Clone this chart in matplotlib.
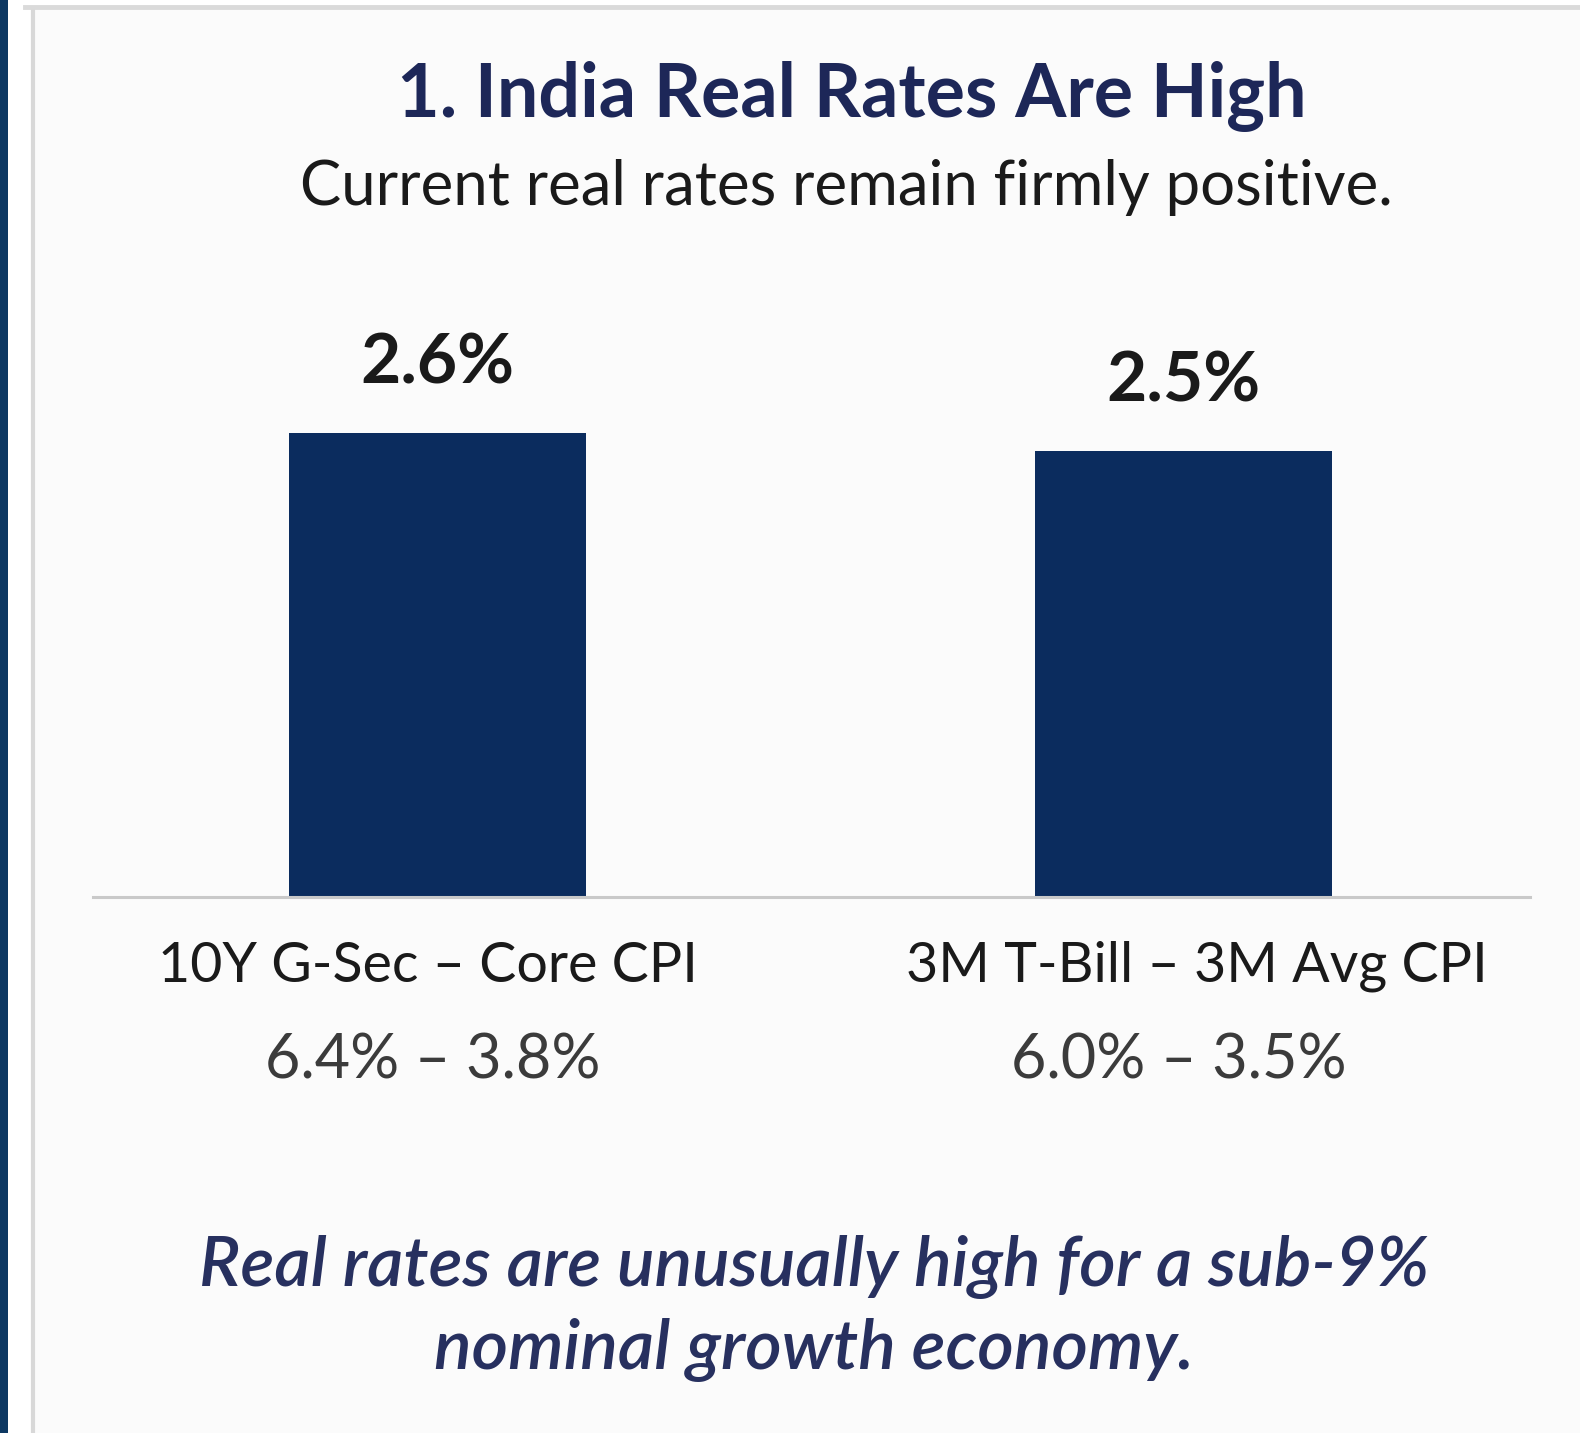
import matplotlib
matplotlib.use('Agg')
import matplotlib.pyplot as plt
from matplotlib.patches import Rectangle
from matplotlib.lines import Line2D

W, H = 1580, 1433

TITLE = '1. India Real Rates Are High'
SUBTITLE = 'Current real rates remain firmly positive.'
CATEGORIES = ['10Y G-Sec \u2013 Core CPI', '3M T-Bill \u2013 3M Avg CPI']
COMPONENTS = ['6.4% \u2013 3.8%', '6.0% \u2013 3.5%']
REAL_RATES = [2.6, 2.5]
NOTE_LINES = ['Real rates are unusually high for a sub-9%',
              'nominal growth economy.']

NAVY = '#0b2c5e'
TITLE_COLOR = '#1d2758'
NOTE_COLOR = '#27305f'

plt.rcParams['font.family'] = ['Lato', 'DejaVu Sans']


def fx(x):
    return x / W


def fy(y):
    return 1 - y / H


fig = plt.figure(figsize=(W / 100, H / 100), dpi=100)
fig.patch.set_facecolor('white')

# side strip and card frame, kept behind the axes
fig.patches.append(Rectangle((0, 0), fx(8), 1, transform=fig.transFigure,
                             facecolor='#0d3862', edgecolor='none', zorder=-2))
fig.patches.append(Rectangle((fx(34), 0), 1 - fx(34), fy(8), transform=fig.transFigure,
                             facecolor='#fbfbfb', edgecolor='none', zorder=-2))
fig.lines.append(Line2D([fx(33), fx(33)], [0, fy(8)], transform=fig.transFigure,
                        color='#d8d8d8', lw=3, zorder=-1))
fig.lines.append(Line2D([fx(25), 1], [fy(7), fy(7)], transform=fig.transFigure,
                        color='#dadada', lw=3.5, zorder=-1))

# bars: baseline at y=897px, x from 93 to 1530px
ax = fig.add_axes([fx(93), fy(897), fx(1530) - fx(93), (897 - 300) / H])
ax.set_facecolor('none')
x = [0, 1]
ax.bar(x, REAL_RATES, width=0.398, color=NAVY, zorder=2)
ax.set_xlim(-0.462, 1.465)
ax.set_ylim(0, 3.345)
for s in ['top', 'right', 'left']:
    ax.spines[s].set_visible(False)
ax.spines['bottom'].set_color('#c9c9c9')
ax.spines['bottom'].set_linewidth(2.2)
ax.set_xticks([])
ax.set_yticks([])

for xi, v in zip(x, REAL_RATES):
    ax.text(xi, v + 0.385, f'{v:.1f}%', ha='center', va='center',
            fontsize=50, fontweight='bold', color='#1a1a1a', clip_on=False)

fig.text(fx(852), fy(96), TITLE, ha='center', va='center',
         fontsize=53, fontweight='bold', color=TITLE_COLOR)
fig.text(fx(846), fy(188), SUBTITLE, ha='center', va='center',
         fontsize=44.5, color='#1a1a1a')

cat_x = [428, 1197]
comp_x = [433, 1179]
for cx, px, cat, comp in zip(cat_x, comp_x, CATEGORIES, COMPONENTS):
    fig.text(fx(cx), fy(966), cat, ha='center', va='center',
             fontsize=40, color='#1a1a1a')
    fig.text(fx(px), fy(1061), comp, ha='center', va='center',
             fontsize=44, color='#3b3b3b')

for ny, line in zip([1267, 1350], NOTE_LINES):
    fig.text(fx(814), fy(ny), line, ha='center', va='center',
             fontsize=50.5, fontweight='semibold', style='italic',
             color=NOTE_COLOR)

fig.savefig('out.png', dpi=100)
